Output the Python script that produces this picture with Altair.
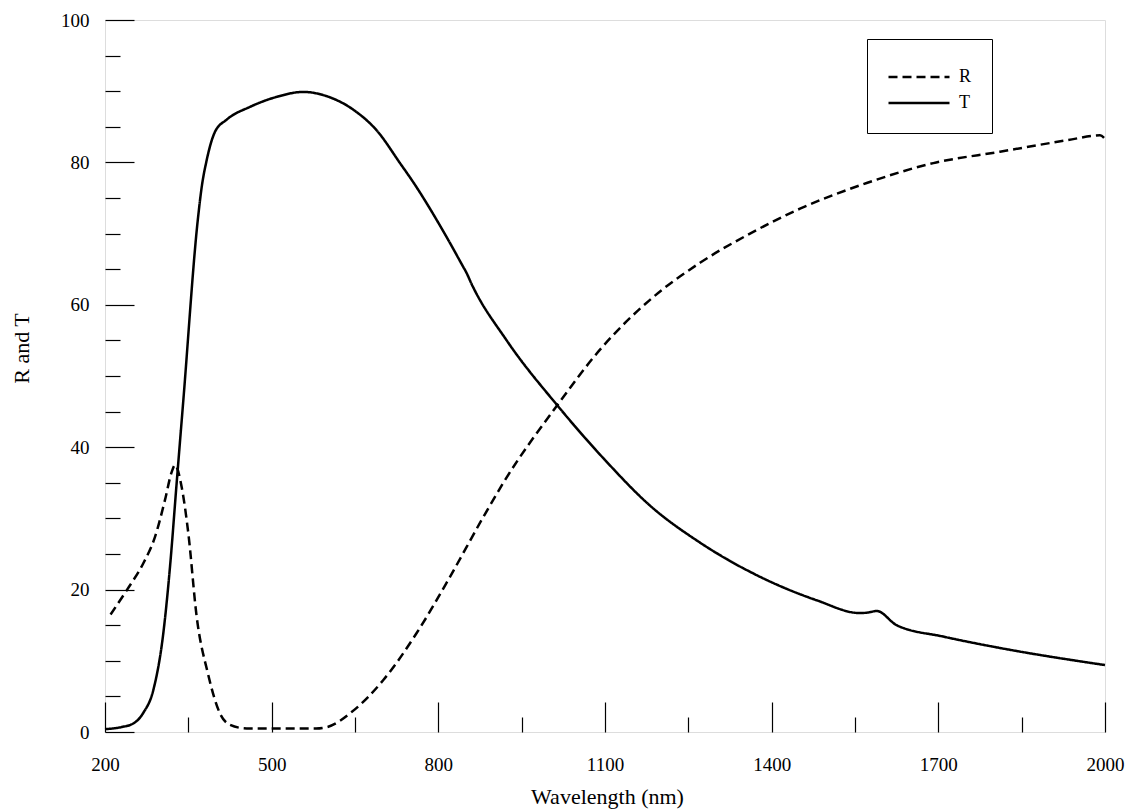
import altair as alt
import pandas as pd

# ---- data ----
wl_T = [200, 230, 251, 269, 287, 305, 317, 329, 341, 367, 374, 383, 398, 419, 461,
        509, 557, 599, 647, 689, 731, 755, 815, 845, 850, 860, 923, 1015, 1100,
        1181, 1271, 1379, 1481, 1559, 1575, 1589, 1625, 1709, 1811, 2000]
T = [0.4, 0.7, 1.2, 2.7, 5.9, 13.9, 23.2, 35.0, 46.6, 71.9, 76.5, 80.3, 84.3, 86.0, 87.8,
     89.2, 89.9, 89.3, 87.4, 84.5, 79.9, 77.2, 69.5, 65.3, 64.6, 62.9, 55.0, 45.8, 38.2,
     31.8, 26.6, 21.8, 18.5, 16.7, 16.8, 17.0, 15.0, 13.4, 11.8, 9.4]

wl_R = [210, 239, 269, 290, 308, 320, 326, 338, 350, 365, 385, 407, 425, 455, 520,
        580, 600, 647, 701, 761, 821, 881, 917, 1015, 1091, 1181, 1271, 1361, 1451,
        1571, 1691, 1811, 1931, 1991, 2000]
R = [16.5, 19.9, 23.7, 27.4, 32.6, 36.5, 37.5, 34.4, 27.9, 16.2, 8.3, 2.6, 1.0, 0.5, 0.5,
     0.5, 0.7, 3.0, 7.3, 13.9, 21.8, 30.2, 35.0, 46.0, 53.7, 60.7, 65.9, 70.0, 73.5,
     77.1, 79.9, 81.5, 83.1, 83.8, 83.3]

series_names = ["R", "T"]
x_label_values = [200, 500, 800, 1100, 1400, 1700, 2000]
x_tick_values = [200, 350, 500, 650, 800, 950, 1100, 1250, 1400, 1550, 1700, 1850, 2000]
y_label_values = [0, 20, 40, 60, 80, 100]
y_tick_values = list(range(0, 101, 5))

df = pd.concat([
    pd.DataFrame({"wl": wl_R, "v": R, "s": "R"}),
    pd.DataFrame({"wl": wl_T, "v": T, "s": "T"}),
], ignore_index=True)

FONT = "Liberation Serif"
W, H = 1000, 712

xscale = alt.Scale(domain=[200, 2000], nice=False, zero=False)
yscale = alt.Scale(domain=[0, 100], nice=False)

base = alt.Chart(df)

lines = base.mark_line(color="black", strokeWidth=2.5, interpolate="monotone").encode(
    x=alt.X("wl:Q", scale=xscale, axis=alt.Axis(
        orient="bottom", values=x_label_values, format="d", ticks=False, tickSize=0,
        domain=False, grid=False,
        labelFont=FONT, labelFontSize=19, labelColor="black", labelPadding=38,
        labelBaseline="alphabetic", labelFlush=False,
        title="Wavelength (nm)", titleFont=FONT, titleFontSize=22, titleFontWeight="normal",
        titleColor="black", titleX=502, titleY=71, titleAlign="center",
        titleBaseline="alphabetic")),
    y=alt.Y("v:Q", scale=yscale, axis=alt.Axis(
        orient="left", values=y_label_values, format="d", ticks=False, tickSize=0,
        domain=False, grid=False,
        labelFont=FONT, labelFontSize=19, labelColor="black", labelPadding=16,
        labelFlush=False,
        title="R and T", titleFont=FONT, titleFontSize=22, titleFontWeight="normal",
        titleColor="black", titleX=-84, titleY=328, titleAngle=-90, titleAlign="center",
        titleBaseline="middle")),
    strokeDash=alt.StrokeDash("s:N", scale=alt.Scale(domain=series_names, range=[[9, 5], [1, 0]]),
                              legend=alt.Legend(
                                  orient="none", legendX=762, legendY=19,
                                  title=" ", titleFontSize=5, titlePadding=3,
                                  padding=20, strokeColor="black", fillColor="white",
                                  symbolType="stroke", symbolSize=3721, symbolStrokeWidth=2.5,
                                  symbolStrokeColor="black", clipHeight=20, rowPadding=6,
                                  labelFont=FONT, labelFontSize=18, labelColor="black",
                                  labelOffset=8)),
)

ticks = base.mark_line(opacity=0).encode(
    x=alt.X("wl:Q", scale=xscale, axis=alt.Axis(
        orient="top", offset=-H, values=x_tick_values, labels=False, domain=False, grid=False,
        title=None, tickColor="black", tickWidth=1.2,
        tickSize={"condition": {"test": "(datum.value - 200) % 300 === 0", "value": 30}, "value": 15})),
    y=alt.Y("v:Q", scale=yscale, axis=alt.Axis(
        orient="right", offset=-W, values=y_tick_values, labels=False, domain=False, grid=False,
        title=None, tickColor="black", tickWidth=1.2,
        tickSize={"condition": {"test": "datum.value % 20 === 0", "value": 29}, "value": 15})),
    detail="s:N",
)

chart = alt.layer(lines, ticks).resolve_axis(x="independent", y="independent").properties(
    width=W, height=H,
    autosize=alt.AutoSizeParams(type="none"),
    padding={"left": 105, "top": 20, "right": 24, "bottom": 77},
).configure_view(stroke="black", strokeWidth=1.5).configure(background="white")

chart.save("out.html", embed_options={"renderer": "svg", "actions": False})
